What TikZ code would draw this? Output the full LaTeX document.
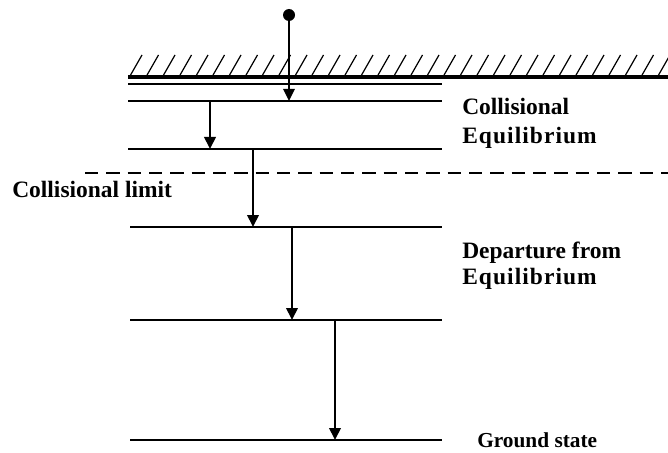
\documentclass[tikz,border=0pt]{standalone}
\usepackage{fontspec}
\setmainfont{Liberation Serif}
\usetikzlibrary{arrows.meta, positioning}
\tikzset{
    level/.style={line width=1.9pt},
    arrow/.style={line width=2pt, -{Triangle[width=8.5pt,length=9pt]}},
    label/.style={anchor=base west, font=\fontsize{17.6}{20}\selectfont\bfseries, inner sep=0pt}
}

\begin{document}
\begin{tikzpicture}[x=0.75pt, y=-0.75pt]
    \useasboundingbox (0,0) rectangle (668,453);

    % wall
    \draw [line width=2.4pt] (128,77) -- (668,77);
    \foreach \x in {130,146.5,...,660}
        \draw [line width=0.9pt] (\x,76) -- (\x+12,55);
    \draw [level] (128,84) -- (442,84);

    % levels
    \coordinate (l1) at (128,101);
    \coordinate (l2) at (128,149);
    \coordinate (l3) at (130,227);
    \coordinate (l4) at (130,320);
    \coordinate (l5) at (130,440);
    \draw [level] (l1) -- ++(314,0);
    \draw [level] (l2) -- ++(314,0);
    \draw [level] (l3) -- ++(312,0);
    \draw [level] (l4) -- ++(312,0);
    \draw [level] (l5) -- ++(312,0);

    % collisional limit
    \draw [line width=1.9pt, dash pattern=on 10pt off 6pt] (85,173) -- (668,173);

    % cascade
    \node (src) [circle, fill=black, inner sep=0pt, minimum size=9pt] at (289,15) {};
    \coordinate (a1) at (289,101);
    \coordinate (b0) at (210,101);
    \coordinate (b1) at (210,149);
    \coordinate (c0) at (253,149);
    \coordinate (c1) at (253,227);
    \coordinate (d0) at (292,227);
    \coordinate (d1) at (292,320);
    \coordinate (e0) at (335,320);
    \coordinate (e1) at (335,440);
    \draw [arrow, line width=1.4pt] (src) -- (a1);
    \draw [arrow] (b0) -- (b1);
    \draw [arrow] (c0) -- (c1);
    \draw [arrow] (d0) -- (d1);
    \draw [arrow] (e0) -- (e1);

    % labels
    \node (coll) [label] at (462,115) {Collisional};
    \node (eq1) [label] at (462,143) {\addfontfeature{LetterSpace=4.5}Equilibrium};
    \node (limit) [label] at (12,197) {Collisional limit};
    \node (dep) [label] at (462,258) {Departure from};
    \node (eq2) [label] at (462,284) {\addfontfeature{LetterSpace=4.5}Equilibrium};
    \node (ground) [label, font=\fontsize{16}{18}\selectfont\bfseries] at (477,447) {Ground state};
\end{tikzpicture}
\end{document}
